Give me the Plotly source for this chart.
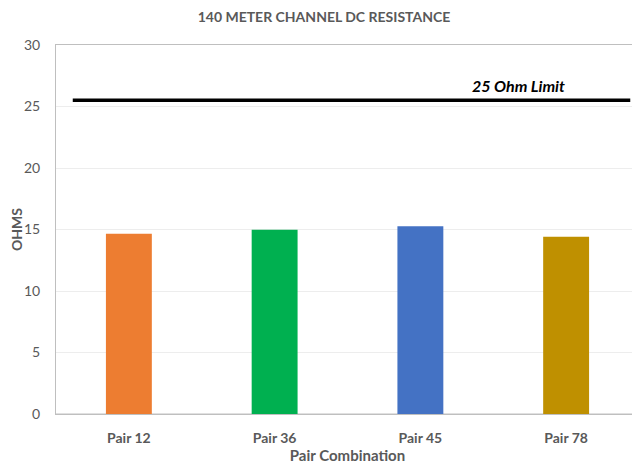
"""
Bar chart: 140 meter channel DC resistance per pair, with the 25 ohm limit line.
"""

import plotly.graph_objects as go

# Data
pairs = ["Pair 12", "Pair 36", "Pair 45", "Pair 78"]
resistance = [14.65, 14.97, 15.27, 14.41]
bar_colors = ["#ED7D31", "#00B050", "#4472C4", "#BF9000"]
limit_value = 25.5
limit_label = "25 Ohm Limit"
y_ticks = [0, 5, 10, 15, 20, 25, 30]

FONT = "Lato, 'Open Sans', sans-serif"
GREY = "#595959"

fig = go.Figure()

fig.add_trace(
    go.Bar(
        x=pairs,
        y=resistance,
        marker=dict(color=bar_colors, line=dict(width=0)),
        width=0.315,
        showlegend=False,
    )
)

# Limit line spans most of the plot width (slightly inset on the left)
fig.add_shape(
    type="line",
    xref="x",
    yref="y",
    x0=-0.385,
    x1=3.44,
    y0=limit_value,
    y1=limit_value,
    line=dict(color="black", width=3.5),
)
fig.add_annotation(
    text=f"<b><i>{limit_label}</i></b>",
    xref="x",
    yref="y",
    x=2.675,
    y=limit_value,
    yshift=15,
    showarrow=False,
    font=dict(family=FONT, size=16, color="black"),
)

# page body has an 8px margin, so the figure is 8px smaller than the window
fig.update_layout(
    width=632,
    height=460,
    paper_bgcolor="white",
    plot_bgcolor="white",
    margin=dict(l=48, r=1, t=37, b=54),
    title=dict(
        text="<b>140 METER CHANNEL DC RESISTANCE</b>",
        x=0.5,
        xanchor="center",
        y=0.98,
        yanchor="middle",
        font=dict(family=FONT, size=14, color=GREY),
    ),
    font=dict(family=FONT, color=GREY),
)

fig.update_xaxes(
    automargin=False,
    tickfont=dict(family=FONT, size=14, color=GREY),
    ticklabelstandoff=11,
    title=dict(text="<b>Pair Combination</b>", font=dict(family=FONT, size=15, color=GREY), standoff=5),
    tickprefix="<b>",
    ticksuffix="</b>",
    showline=True,
    linecolor="#BFBFBF",
    linewidth=1,
    mirror=True,
    showgrid=False,
)
fig.update_yaxes(
    automargin=False,
    range=[0, 30],
    tickvals=y_ticks,
    tickprefix="<b>",
    ticksuffix="</b>",
    tickfont=dict(family=FONT, size=14, color=GREY),
    ticklabelstandoff=12,
    title=dict(text="<b>OHMS</b>", font=dict(family=FONT, size=14, color=GREY), standoff=11),
    showline=True,
    linecolor="#BFBFBF",
    linewidth=1,
    mirror=True,
    showgrid=True,
    gridcolor="#EDEDED",
    zeroline=True,
    zerolinecolor="#E0E0E0",
)

fig.write_html("out.html")
